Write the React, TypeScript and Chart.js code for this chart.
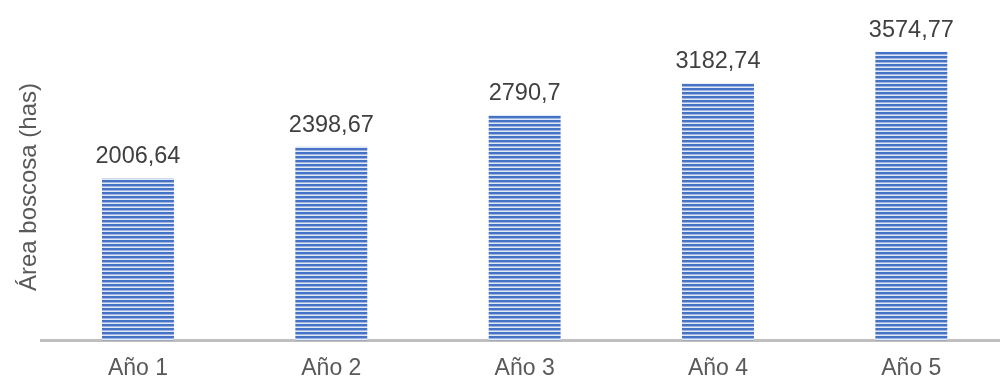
import React, { useEffect, useRef } from "react";
import { Chart, registerables } from "chart.js";

Chart.register(...registerables);

const categories = ["Año 1", "Año 2", "Año 3", "Año 4", "Año 5"];
const areaValues = [2006.64, 2398.67, 2790.7, 3182.74, 3574.77];
const valueLabels = ["2006,64", "2398,67", "2790,7", "3182,74", "3574,77"];
const yTitle = "Área boscosa (has)";

const FONT = '"Liberation Sans", Arial, sans-serif';

function makePattern(): CanvasPattern | string {
  const c = document.createElement("canvas");
  c.width = 4;
  c.height = 4;
  const g = c.getContext("2d");
  if (!g) return "#4472C4";
  const rows = ["#4472C4", "#4673C6", "#9db4e2", "#e2e9f6"];
  rows.forEach((col, i) => {
    g.fillStyle = col;
    g.fillRect(0, i, 4, 1);
  });
  const p = g.createPattern(c, "repeat");
  return p || "#4472C4";
}

const labelPlugin = {
  id: "valueLabels",
  afterDatasetsDraw(chart: any) {
    const ctx = chart.ctx;
    const meta = chart.getDatasetMeta(0);
    ctx.save();
    ctx.font = `23.5px ${FONT}`;
    ctx.fillStyle = "#404040";
    ctx.textAlign = "center";
    ctx.textBaseline = "alphabetic";
    meta.data.forEach((bar: any, i: number) => {
      ctx.fillText(valueLabels[i], bar.x, bar.y - 15);
    });
    ctx.restore();
  },
};

export default function App() {
  const ref = useRef<HTMLCanvasElement>(null);
  useEffect(() => {
    if (!ref.current) return;
    const chart = new Chart(ref.current, {
      type: "bar",
      data: {
        labels: categories,
        datasets: [
          {
            data: areaValues,
            backgroundColor: makePattern() as any,
            borderWidth: 0,
            categoryPercentage: 1,
            barPercentage: 0.372,
          },
        ],
      },
      options: {
        responsive: false,
        animation: false,
        layout: { padding: { left: 14.3, right: 2, top: 33.5, bottom: -18.5 } },
        plugins: {
          legend: { display: false },
          tooltip: { enabled: false },
        },
        scales: {
          x: {
            grid: { display: false, drawTicks: false },
            border: { display: true, color: "#bfbfbf", width: 3 },
            ticks: {
              color: "#595959",
              padding: 17,
              font: { family: FONT, size: 23, lineHeight: 1 },
            },
          },
          y: {
            min: 0,
            max: 3800,
            grid: { display: false, drawTicks: false },
            border: { display: false },
            ticks: { display: false },
            title: {
              display: true,
              text: yTitle,
              color: "#595959",
              padding: { top: 3, bottom: 0 },
              font: { family: FONT, size: 24, lineHeight: 1 },
            },
          },
        },
      },
      plugins: [labelPlugin],
    });
    return () => chart.destroy();
  }, []);
  return (
    <div style={{ position: "fixed", left: 0, top: 0, width: 1010, height: 379, background: "#fff" }}>
      <canvas ref={ref} width={1010} height={379} style={{ width: 1010, height: 379, display: "block" }} />
    </div>
  );
}
